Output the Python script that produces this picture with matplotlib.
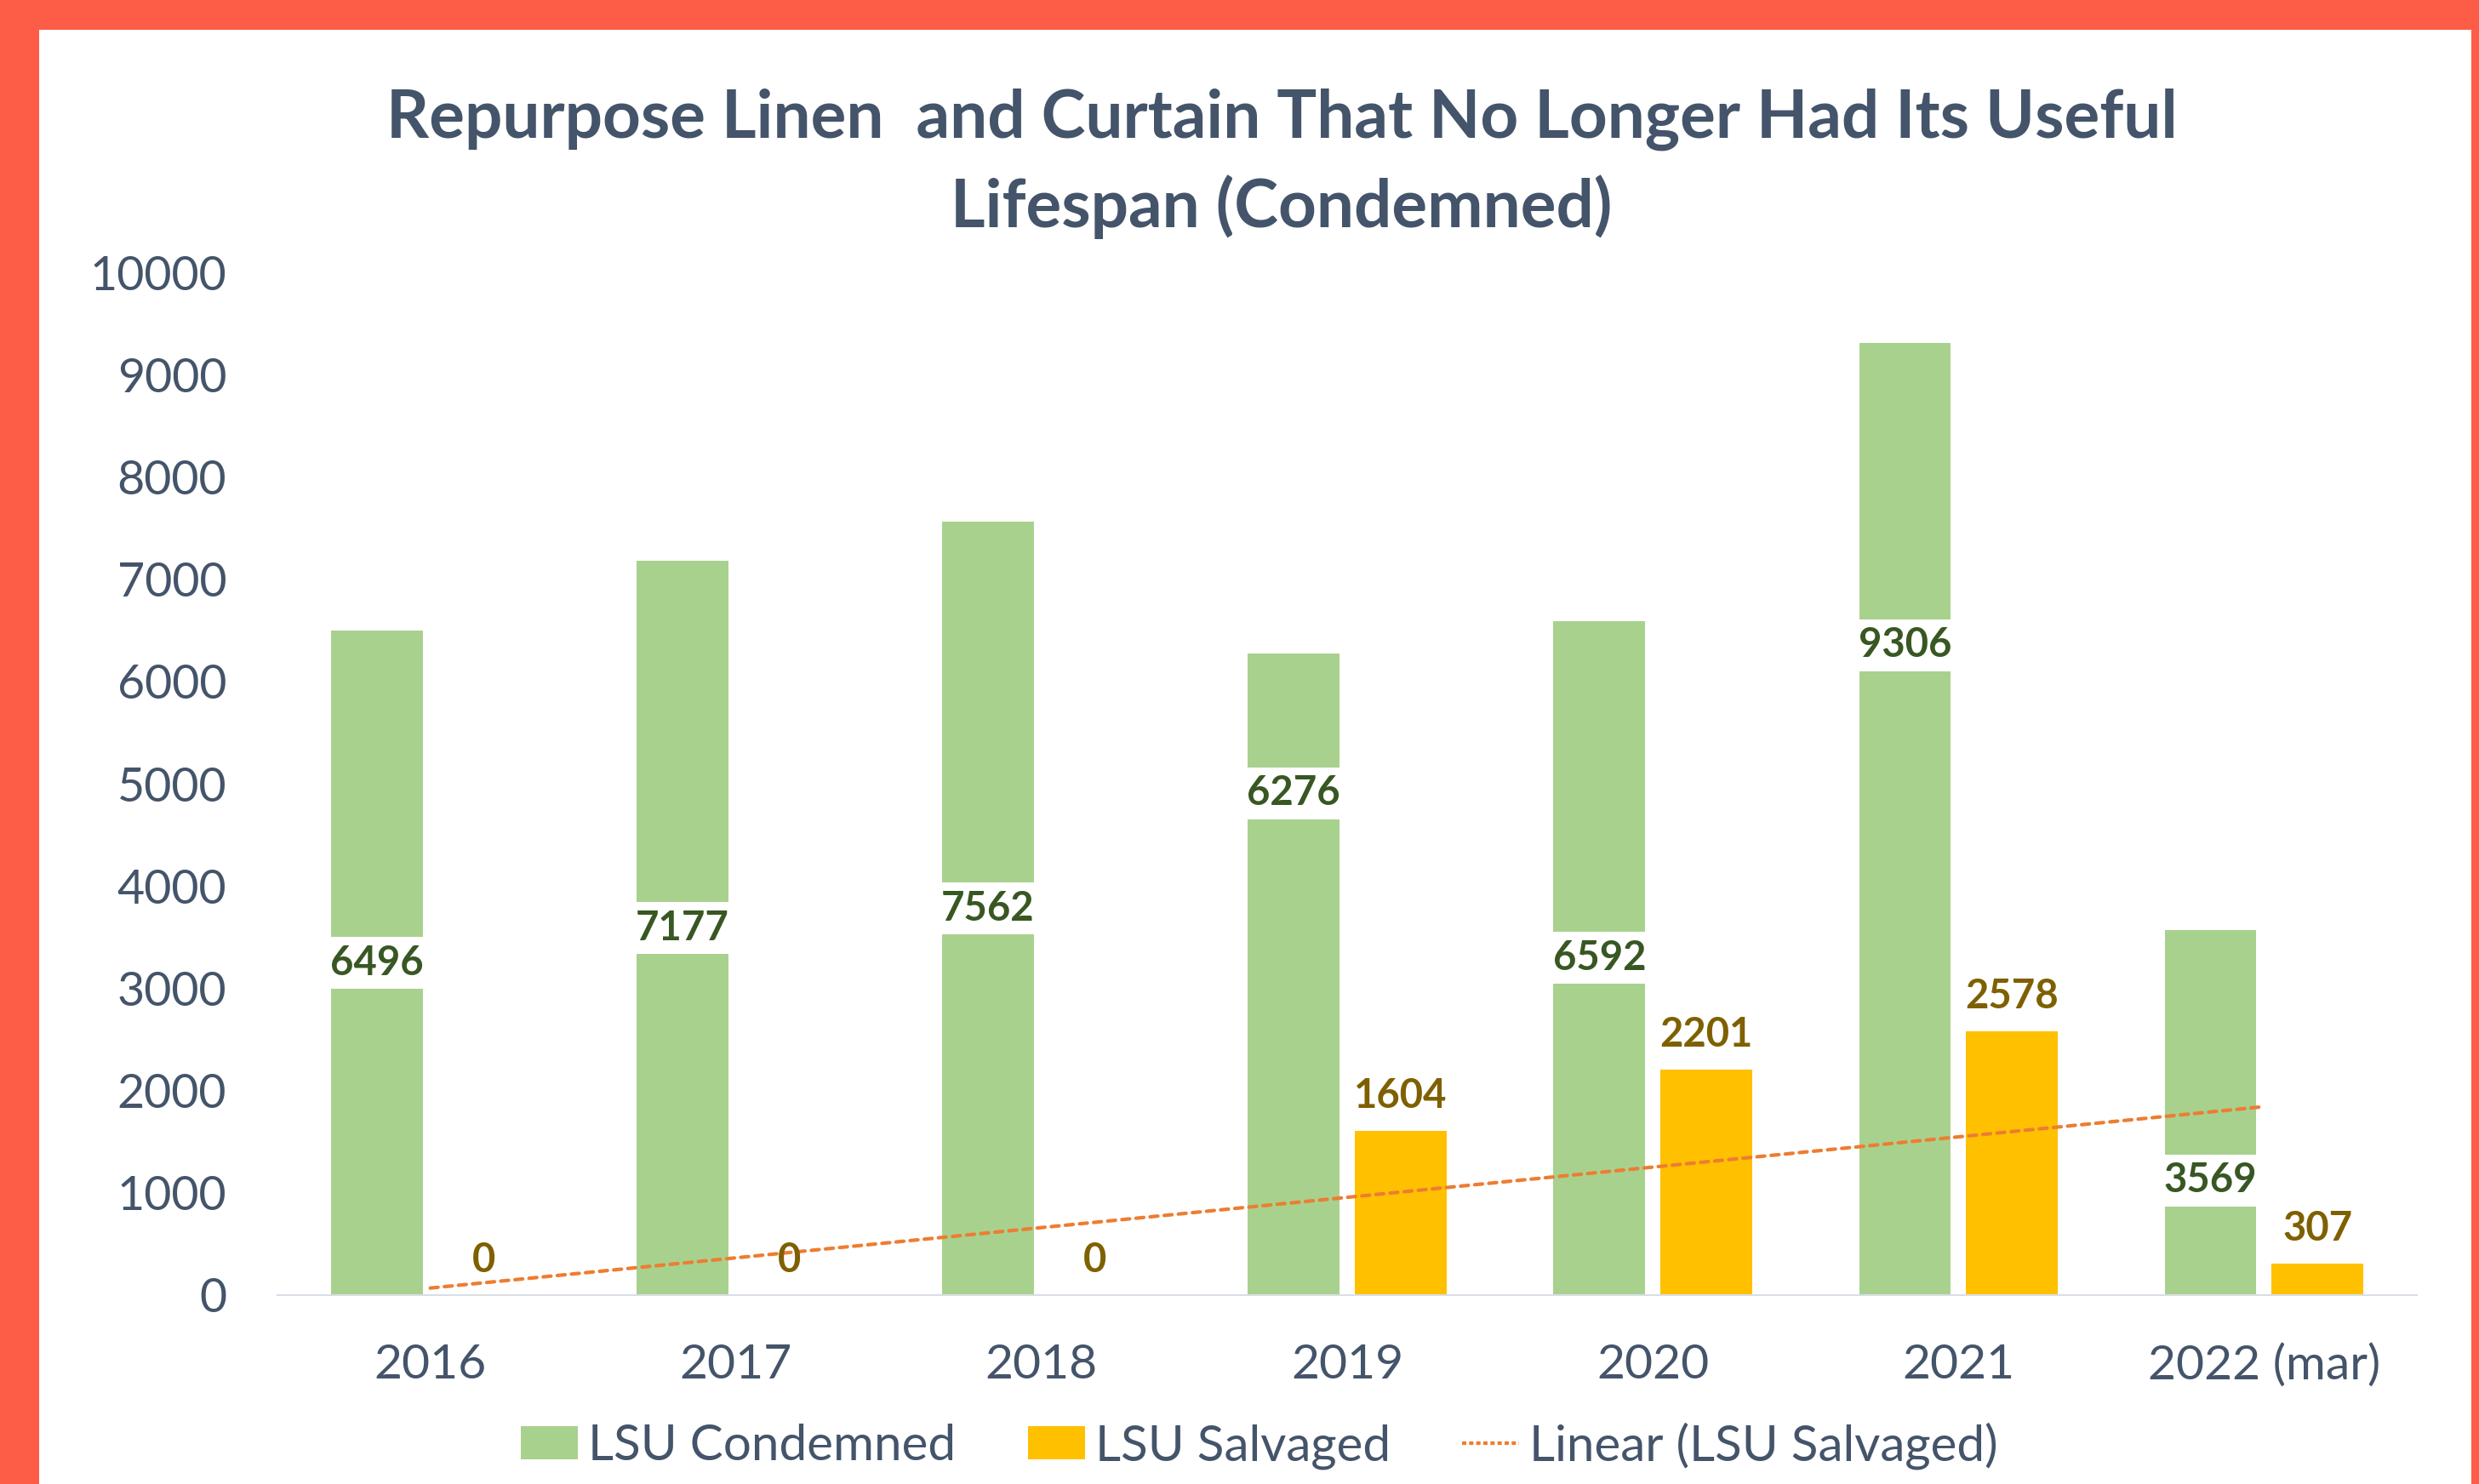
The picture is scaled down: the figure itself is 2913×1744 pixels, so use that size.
import numpy as np
import matplotlib.pyplot as plt
from matplotlib.patches import Rectangle, Patch
from matplotlib.lines import Line2D

plt.rcParams['font.family'] = ['Lato', 'DejaVu Sans']

years = ["2016", "2017", "2018", "2019", "2020", "2021", "2022 (mar)"]
condemned = [6496, 7177, 7562, 6276, 6592, 9306, 3569]
salvaged = [0, 0, 0, 1604, 2201, 2578, 307]

# some condemned labels were dragged off-centre in the original
moved_labels = {3: 4908, 5: 6356, 6: 1123}

green = "#A9D18E"
yellow = "#FFC000"
slate = "#44546A"
trend_col = "#ED7D31"
border = "#FD5C47"

W, H = 2913, 1744
fig = plt.figure(figsize=(W / 100, H / 100), dpi=100)
fig.patch.set_facecolor(border)
fig.patches.append(Rectangle((46 / W, -0.01), (2904 - 46) / W, 1 - 35 / H + 0.01,
                             transform=fig.transFigure, facecolor="white",
                             edgecolor="none", zorder=-10))

ax = fig.add_axes([326 / W, 1 - 1522 / H, (2840 - 326) / W, (1522 - 320) / H])
ax.set_facecolor("none")

x = np.arange(len(years))
bw = 0.30
off = 0.175
ax.bar(x - off, condemned, bw, color=green, zorder=2)
ax.bar(x + off, salvaged, bw, color=yellow, zorder=2)

# linear trendline of salvaged, like Excel's (drawn at category centres)
b, a = np.polyfit(x, salvaged, 1)
xt = np.array([x[0], x[-1]])
ax.plot(xt, a + b * xt, color=trend_col, lw=3.0, dashes=(2.2, 1.8),
        dash_capstyle="round", zorder=3)

for i, v in enumerate(condemned):
    ypos = moved_labels.get(i, v / 2)
    ax.text(x[i] - off, ypos, str(v), ha="center", va="center", fontsize=34,
            fontweight="bold", color="#385723", zorder=4,
            bbox=dict(boxstyle="square,pad=0.18", facecolor="white", edgecolor="none"))

for i, v in enumerate(salvaged):
    ax.annotate(str(v), (x[i] + off, v), xytext=(0, 29.5), textcoords="offset points",
                ha="center", va="center", fontsize=34, fontweight="bold",
                color="#7F6000", zorder=4)

ax.set_xlim(-0.5, len(years) - 0.5)
ax.set_ylim(0, 10000)
ax.set_yticks(range(0, 10001, 1000))
ax.set_xticks(x)
ax.set_xticklabels(years)
ax.tick_params(axis="both", length=0, labelsize=40, labelcolor=slate)
ax.tick_params(axis="x", labelsize=41, pad=41)
ax.tick_params(axis="y", pad=43)
for s in ["top", "left", "right"]:
    ax.spines[s].set_visible(False)
ax.spines["bottom"].set_color("#D9DEE6")
ax.spines["bottom"].set_linewidth(1.5)

fig.text(1506 / W, 1 - 162 / H, "Repurpose Linen  and Curtain That No Longer Had Its Useful",
         ha="center", va="baseline", fontsize=56.3, fontweight="bold", color=slate)
fig.text(1506 / W, 1 - 267 / H, "Lifespan (Condemned)",
         ha="center", va="baseline", fontsize=56.3, fontweight="bold", color=slate)

handles = [Patch(facecolor=green, label="LSU Condemned"),
           Patch(facecolor=yellow, label="LSU Salvaged"),
           Line2D([0], [0], color=trend_col, lw=3.0, dashes=(1.2, 0.8),
                  label="Linear (LSU Salvaged)")]
fig.legend(handles=handles, loc="center", bbox_to_anchor=(1480 / W, 1 - 1699 / H),
           ncol=3, frameon=False, fontsize=42, labelcolor=slate,
           handlelength=1.15, handleheight=0.65, handletextpad=0.2,
           columnspacing=1.45, borderaxespad=0)

fig.savefig("out.png", dpi=100, facecolor=fig.get_facecolor())
